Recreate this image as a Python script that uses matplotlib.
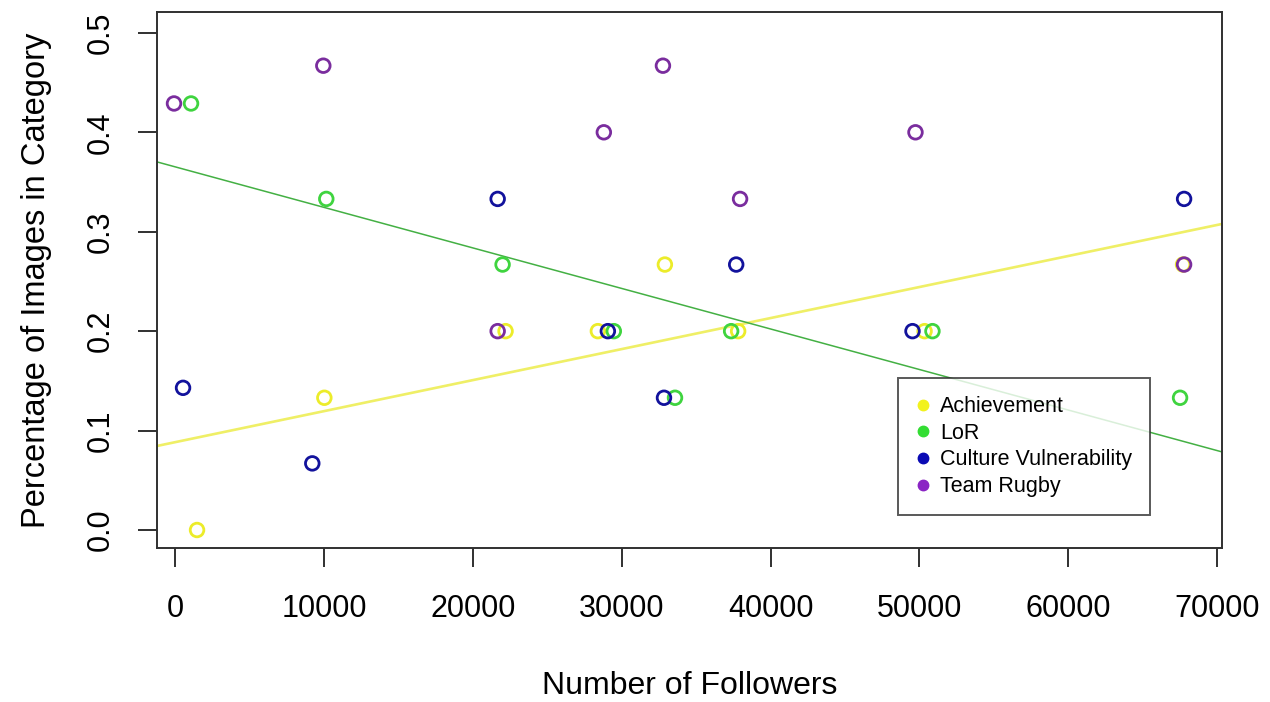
import numpy as np
import matplotlib.pyplot as plt
from matplotlib.lines import Line2D

plt.rcParams['font.family'] = ['Liberation Sans', 'DejaVu Sans']

# values (followers, share of images)
followers_ach = [1480, 10030, 22200, 28400, 32900, 37820, 50340, 67700]
pct_ach = [0.0, 0.133, 0.2, 0.2, 0.267, 0.2, 0.2, 0.267]

followers_lor = [1077, 10160, 22000, 29470, 33580, 37350, 50870, 67500]
pct_lor = [0.429, 0.333, 0.267, 0.2, 0.133, 0.2, 0.2, 0.133]

followers_cv = [540, 9220, 21670, 29070, 32840, 37690, 49530, 67770]
pct_cv = [0.143, 0.067, 0.333, 0.2, 0.133, 0.267, 0.2, 0.333]

followers_tr = [-67, 9960, 21670, 28800, 32770, 37950, 49730, 67770]
pct_tr = [0.429, 0.467, 0.2, 0.4, 0.467, 0.333, 0.4, 0.267]

# fitted lines (intercept, slope) as drawn
fit_ach = (0.0883, 3.122e-6)
fit_lor = (0.3653, -4.078e-6)

categories = ['Achievement', 'LoR', 'Culture Vulnerability', 'Team Rugby']
point_cols = ['#ecec2a', '#3fd43f', '#12129c', '#7a2d9e']
legend_cols = ['#f2f21e', '#33dd33', '#0a0ab4', '#8a24c4']

fig = plt.figure(figsize=(12.7, 7.02), dpi=100)
ax = fig.add_axes([157/1270, 1 - 548/702, (1222 - 157)/1270, (548 - 12)/702])

ax.axline((0, fit_ach[0]), slope=fit_ach[1], color='#efef66', lw=1.9, zorder=1)
ax.axline((0, fit_lor[0]), slope=fit_lor[1], color='#44b044', lw=1.1, zorder=1)

series = [(followers_ach, pct_ach), (followers_lor, pct_lor),
          (followers_cv, pct_cv), (followers_tr, pct_tr)]
for (x, y), c in zip(series, point_cols):
    ax.scatter(x, y, s=96, facecolors='none', edgecolors=c, linewidths=2.0, zorder=3)

ax.set_xlim(-1209, 70316)
ax.set_ylim(-0.0181, 0.521)
ax.set_xticks(np.arange(0, 70001, 10000))
ax.set_yticks(np.arange(0, 0.51, 0.1))
ax.set_yticklabels(['%.1f' % v for v in np.arange(0, 0.51, 0.1)])

for s in ax.spines.values():
    s.set_linewidth(1.4)
    s.set_color('#303030')
ax.tick_params(length=14, width=1.4, color='#303030', labelsize=22)
ax.tick_params(axis='x', pad=19)
ax.tick_params(axis='y', pad=16, labelrotation=90)
for lab in ax.get_yticklabels():
    lab.set_verticalalignment('center')

ax.set_xlabel('Number of Followers', fontsize=23, labelpad=34)
ax.set_ylabel('Percentage of Images in Category', fontsize=23.5, labelpad=24)

handles = [Line2D([], [], marker='o', ls='none', color=c, markersize=7.5)
           for c in legend_cols]
leg = ax.legend(handles, categories, loc='upper left',
                bbox_to_anchor=(898/1270, 1 - 378/702), bbox_transform=fig.transFigure,
                fontsize=15.5, frameon=True, fancybox=False, edgecolor='#303030',
                handlelength=0.6, handletextpad=0.5, labelspacing=0.26,
                borderpad=0.85, borderaxespad=0)
leg.get_frame().set_linewidth(1.4)

fig.savefig('out.png', dpi=100)
